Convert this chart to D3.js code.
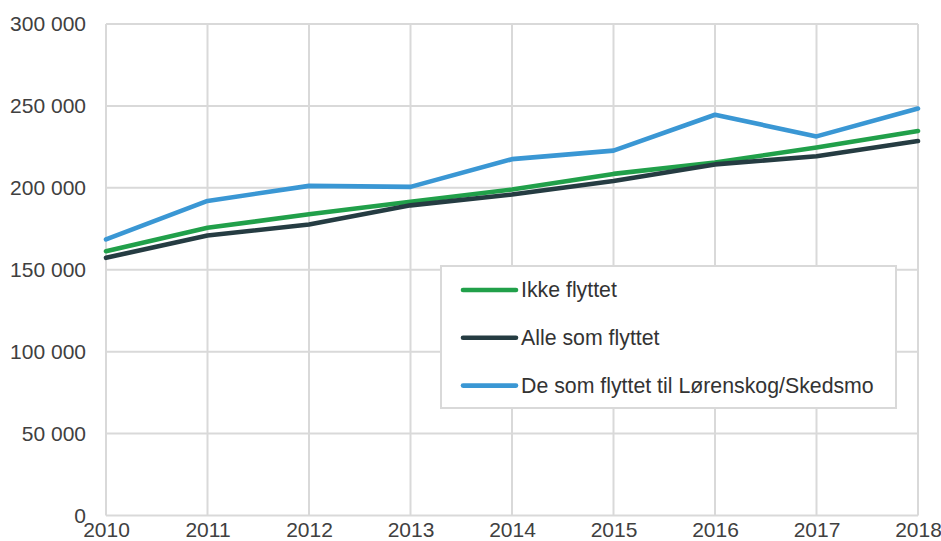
<!DOCTYPE html>
<html>
<head>
<meta charset="utf-8">
<script src="https://cdn.jsdelivr.net/npm/d3@7"></script>
<style>
  html, body { margin: 0; padding: 0; background: #fff; }
  svg { display: block; }
  text { font-family: "Liberation Sans", Arial, sans-serif; }
</style>
</head>
<body>
<svg id="chart" width="941" height="541"></svg>
<script>
// Years on the x axis
const years = [2010, 2011, 2012, 2013, 2014, 2015, 2016, 2017, 2018];

// Series values
const ikkeFlyttet = [161300, 175600, 183900, 191500, 199000, 208500, 215500, 224600, 234700];
const alleSomFlyttet = [157300, 170900, 177600, 189300, 195900, 204200, 214300, 219300, 228600];
const lorenskogSkedsmo = [168500, 192000, 201200, 200600, 217500, 222700, 244600, 231400, 248400];

const seriesNames = ["Ikke flyttet", "Alle som flyttet", "De som flyttet til Lørenskog/Skedsmo"];
const seriesColors = ["#21a04a", "#253c42", "#3a97d4"];

// Y-axis tick values
const yTicks = [0, 50000, 100000, 150000, 200000, 250000, 300000];

const series = [ikkeFlyttet, alleSomFlyttet, lorenskogSkedsmo].map((values, i) => ({
  name: seriesNames[i],
  color: seriesColors[i],
  values: values.map((v, j) => ({ year: years[j], value: v }))
}));

const svg = d3.select("#chart");
const plotLeft = 106, plotRight = 918, plotTop = 24, plotBottom = 515.5;

const x = d3.scaleLinear().domain([2010, 2018]).range([plotLeft, plotRight]);
const y = d3.scaleLinear().domain([0, 300000]).range([plotBottom, plotTop]);

const fmt = v => d3.format(",")(v).replace(/,/g, " ");
const gridColor = "#d9d9d9";
const textColor = "#404040";

// Grid
const grid = svg.append("g");
grid.selectAll("line.h").data(yTicks).join("line")
  .attr("class", "h")
  .attr("x1", plotLeft).attr("x2", plotRight)
  .attr("y1", d => y(d)).attr("y2", d => y(d))
  .attr("stroke", gridColor).attr("stroke-width", 2);
grid.selectAll("line.v").data(years).join("line")
  .attr("class", "v")
  .attr("y1", plotTop).attr("y2", plotBottom)
  .attr("x1", d => x(d)).attr("x2", d => x(d))
  .attr("stroke", gridColor).attr("stroke-width", 2);

// Y axis labels
const yAxis = d3.axisLeft(y).tickValues(yTicks).tickFormat(fmt).tickSize(0).tickPadding(20);
svg.append("g").attr("transform", `translate(${plotLeft},0)`).call(yAxis)
  .call(g => g.select(".domain").remove())
  .selectAll("text")
  .attr("font-size", 21).attr("fill", textColor)
  .style("font-family", '"Liberation Sans", Arial, sans-serif');

// X axis labels
const xAxis = d3.axisBottom(x).tickValues(years).tickFormat(d3.format("d")).tickSize(0).tickPadding(7);
svg.append("g").attr("transform", `translate(0,${plotBottom})`).call(xAxis)
  .call(g => g.select(".domain").remove())
  .selectAll("text")
  .attr("font-size", 21).attr("fill", textColor)
  .style("font-family", '"Liberation Sans", Arial, sans-serif');

// Lines
const line = d3.line().x(d => x(d.year)).y(d => y(d.value));
svg.append("g").selectAll("path").data(series).join("path")
  .attr("d", d => line(d.values))
  .attr("fill", "none")
  .attr("stroke", d => d.color)
  .attr("stroke-width", 4.6)
  .attr("stroke-linejoin", "round")
  .attr("stroke-linecap", "round");

// Legend
const legend = svg.append("g");
legend.append("rect")
  .attr("x", 441).attr("y", 266).attr("width", 455).attr("height", 142)
  .attr("fill", "#fff").attr("stroke", gridColor).attr("stroke-width", 2);
const rows = legend.selectAll("g.item").data(series).join("g")
  .attr("class", "item")
  .attr("transform", (d, i) => `translate(0,${290 + i * 47.8})`);
rows.append("line")
  .attr("x1", 463).attr("x2", 516).attr("y1", 0).attr("y2", 0)
  .attr("stroke", d => d.color).attr("stroke-width", 4.6).attr("stroke-linecap", "round");
rows.append("text")
  .attr("x", 521).attr("y", 0).attr("dy", "0.35em")
  .attr("font-size", 21.3).attr("fill", "#333")
  .text(d => d.name);
</script>
</body>
</html>
